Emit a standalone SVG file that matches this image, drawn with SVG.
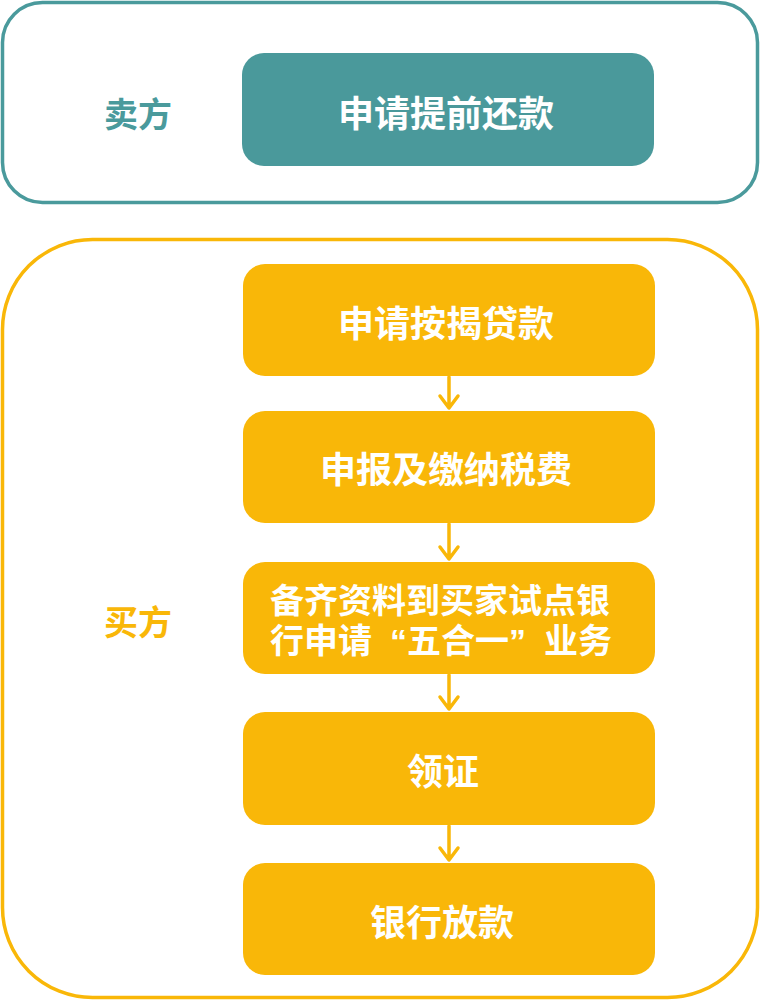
<svg xmlns="http://www.w3.org/2000/svg" width="760" height="1000" viewBox="0 0 760 1000">
<style>
text{font-family:"Noto Sans CJK SC","Noto Sans CJK JP",sans-serif;font-weight:700;}
.lbl{font-size:34px;text-anchor:middle;dominant-baseline:central;}
.box{fill:#F9B708;}
.w{fill:#FFFFFF;font-size:36px;text-anchor:middle;dominant-baseline:central;}
.ml{fill:#FFFFFF;font-size:34px;font-family:"Liberation Sans","Noto Sans CJK SC","Noto Sans CJK JP",sans-serif;}
.c{stroke:#F9B708;stroke-width:3.5;fill:none;stroke-linecap:round;stroke-linejoin:round;}
</style>
<g id="seller-lane">
<rect x="2.5" y="2.5" width="755" height="200" rx="40" fill="#FFFFFF" stroke="#4A9A9C" stroke-width="3.5"/>
<text class="lbl" x="138" y="112" fill="#4A9A9C">卖方</text>
</g>
<g id="n-prepay">
<rect x="242" y="53" width="412" height="113" rx="22" fill="#4A999B"/>
<text class="w" x="446" y="111">申请提前还款</text>
</g>
<g id="buyer-lane">
<rect x="2.5" y="239.5" width="755" height="758" rx="90" fill="#FFFFFF" stroke="#F9B708" stroke-width="3.5"/>
<text class="lbl" x="138" y="620" fill="#F9B708">买方</text>
</g>
<g id="n1">
<rect class="box" x="243" y="264" width="412" height="112" rx="22"/>
<text class="w" x="446" y="321">申请按揭贷款</text>
</g>
<g id="n2">
<rect class="box" x="243" y="411" width="412" height="112" rx="22"/>
<text class="w" x="446" y="467">申报及缴纳税费</text>
</g>
<g id="n3">
<rect class="box" x="243" y="562" width="412" height="112" rx="22"/>
<text class="ml" x="270" y="613">备齐资料到买家试点银</text>
<text class="ml" x="270" y="653">行申请<tspan dx="18">“</tspan>五合一”<tspan dx="18">业务</tspan></text>
</g>
<g id="n4">
<rect class="box" x="243" y="712" width="412" height="113" rx="22"/>
<text class="w" x="443" y="769">领证</text>
</g>
<g id="n5">
<rect class="box" x="243" y="863" width="412" height="112" rx="22"/>
<text class="w" x="442" y="920">银行放款</text>
</g>
<g id="connectors">
<path class="c" d="M449 377 V408 M440 396 L449 408 L458 396"/>
<path class="c" d="M449 524 V559 M440 547 L449 559 L458 547"/>
<path class="c" d="M449 675 V709 M440 697 L449 709 L458 697"/>
<path class="c" d="M449 826 V860 M440 848 L449 860 L458 848"/>
</g>
</svg>
